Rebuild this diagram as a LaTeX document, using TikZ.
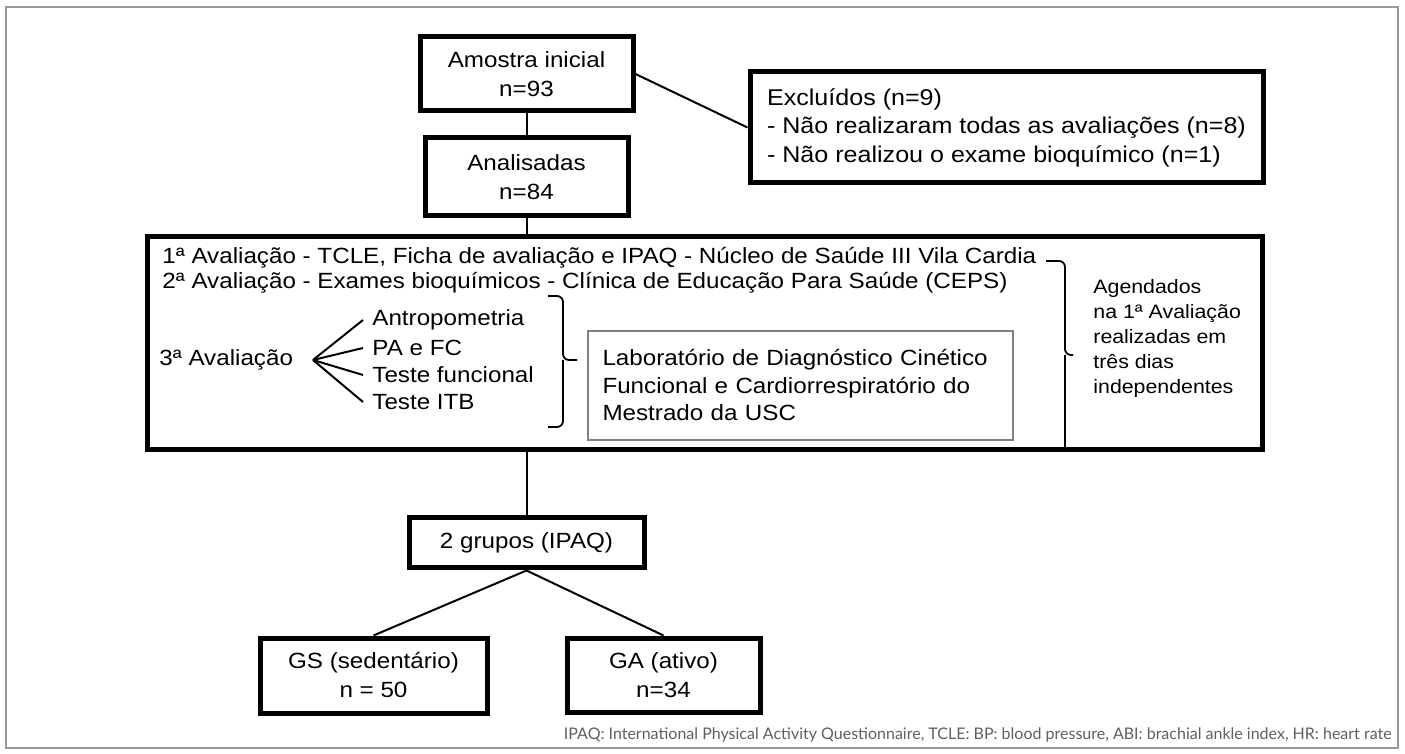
\documentclass[tikz,border=0pt]{standalone}
\usepackage{fontspec}
\setmainfont{Liberation Sans}[FakeStretch=1.1]
\newfontfamily\notefont{Lato}
\usepackage{xcolor}
\usepackage{tikz}
\usetikzlibrary{positioning}
\definecolor{cinza}{RGB}{95,95,95}

\begin{document}
\begin{tikzpicture}[x=0.5pt, y=-0.5pt, font=\fontsize{11}{14.5}\selectfont,
    box/.style={draw, line width=2.5pt, align=center, inner sep=0pt},
    labbox/.style={draw=gray, line width=0.7pt, align=left},
    link/.style={line width=1pt},
    brace/.style={line width=0.9pt, rounded corners=3pt}]
        \useasboundingbox (0,0) rectangle (1405,754);
        \draw[gray!80, line width=0.8pt] (6,7) rectangle (1398,748);

        % top: amostra, excluidos, analisadas
        \node[box, minimum width=106.5pt, minimum height=37pt] (amostra) at (526.5,74) {Amostra inicial\\n=93};
        \node[box, align=left, minimum width=256.5pt, minimum height=55.5pt,
              font=\fontsize{11.4}{14.25}\selectfont] (excl) at (1006.5,127.5)
              {Excluídos (n=9)\\- Não realizaram todas as avaliações (n=8)\\- Não realizou o exame bioquímico (n=1)};
        \node[box, minimum width=101.5pt, minimum height=39pt, below=11pt of amostra] (analis) {Analisadas\\n=84};
        \draw[link] (amostra) -- (analis);
        \draw[link] (amostra.east) -- (excl.west);

        % avaliacoes
        \node[box, minimum width=557.5pt, minimum height=106.5pt] (aval) at (704.5,343.5) {};
        \draw[link] (analis.south) -- (analis.south |- aval.north);
        \node[anchor=west, inner sep=0pt] (av1) at (162,258) {1ª Avaliação - TCLE, Ficha de avaliação e IPAQ - Núcleo de Saúde III Vila Cardia};
        \node[anchor=west, inner sep=0pt] (av2) at (162,283) {2ª Avaliação - Exames bioquímicos - Clínica de Educação Para Saúde (CEPS)};
        \node[anchor=west, inner sep=0pt] (av3) at (159,360) {3ª Avaliação};
        \coordinate (fan) at (313,360);
        \foreach \n/\y/\t in {antro/320/Antropometria, pafc/348/PA e FC, func/375/Teste funcional, itb/402/Teste ITB} {
          \node[anchor=west, inner xsep=4.5pt, inner ysep=0pt] (\n) at (363,\y) {\t};
          \draw[link] (fan) -- (\n.west);
        }
        \draw[brace] (548,296) -- (563,296) -- (563,360) -- (577,360);
        \draw[brace] (563,360) -- (563,427) -- (548,427);
        \node[labbox, minimum width=212.5pt, minimum height=54.5pt, font=\fontsize{11}{13.75}\selectfont,
              text width=198pt, inner xsep=7.25pt] (lab) at (800.5,385.5)
              {Laboratório de Diagnóstico Cinético\\Funcional e Cardiorrespiratório do\\Mestrado da USC};
        \draw[brace] (1046,261) -- (1065,261) -- (1065,355) -- (1073,355);
        \draw[brace] (1065,355) -- (1065,449);
        \node[anchor=west, align=left, inner sep=0pt, font=\fontsize{9.7}{12.5}\selectfont] (agenda) at (1093,338)
              {Agendados\\na 1ª Avaliação\\realizadas em\\três dias\\independentes};

        % grupos
        \node[box, minimum width=117.5pt, minimum height=25pt] (grupos) at (526.5,543) {2 grupos (IPAQ)};
        \draw[link] (aval.south -| grupos.north) -- (grupos.north);
        \node[box, minimum width=113.5pt, minimum height=37.5pt] (gs) at (373.5,675.5) {GS (sedentário)\\n = 50};
        \node[box, minimum width=96.5pt, minimum height=37pt] (ga) at (663.5,675) {GA (ativo)\\n=34};
        \draw[link] (grupos.south) -- (gs.north);
        \draw[link] (grupos.south) -- (ga.north);

        \node[anchor=east, inner sep=0pt, text=cinza, font=\notefont\fontsize{8}{9}\selectfont] (nota) at (1392,735)
              {IPAQ: International Physical Activity Questionnaire, TCLE: BP: blood pressure, ABI: brachial ankle index, HR: heart rate};
      \end{tikzpicture}
\end{document}
